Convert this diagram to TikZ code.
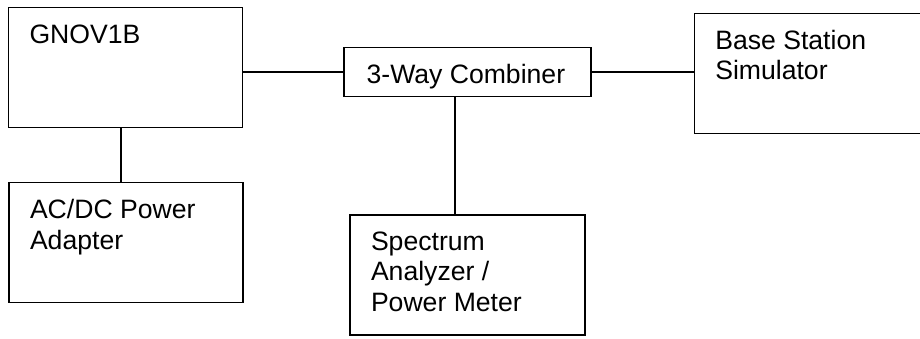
\documentclass[tikz,border=0pt]{standalone}
\usepackage{fontspec}
\setmainfont{Liberation Sans}

\begin{document}
\begin{tikzpicture}[x=0.5pt,y=-0.5pt,line width=0.75pt,
  box/.style={draw,rectangle,inner sep=0pt,minimum width=117pt,minimum height=60pt},
  lbl/.style={anchor=north west,inner sep=0pt,align=left,font=\fontsize{13.3pt}{15.2pt}\selectfont}]
  \path[use as bounding box,clip] (0,0) rectangle (920,338);

  \node[box] (gnov) at (125.5,67.5) {};
  \node[box] (acdc) at (126,242.7) {};
  \node[box,minimum width=123.5pt,minimum height=24.5pt] (comb) at (467.5,72.2) {};
  \node[box,minimum width=117.5pt] (spec) at (467.5,275) {};
  \node[box,minimum width=117.5pt] (base) at (811.8,73.3) {};

  \node[lbl] (gnovtxt) at ([shift={(10.5pt,-8.5pt)}]gnov.north west) {GNOV1B};
  \node[lbl] (acdctxt) at ([shift={(10.5pt,-8.5pt)}]acdc.north west) {AC/DC Power\\Adapter};
  \node[lbl] (combtxt) at ([shift={(11.3pt,-8.5pt)}]comb.north west) {3-Way Combiner};
  \node[lbl] (spectxt) at ([shift={(10.5pt,-8.5pt)}]spec.north west) {Spectrum\\Analyzer /\\Power Meter};
  \node[lbl] (basetxt) at ([shift={(10.5pt,-8.5pt)}]base.north west) {Base Station\\Simulator};

  \draw ([xshift=-2.25pt]gnov.south) -- ([xshift=-2.25pt]gnov.south |- acdc.north);
  \draw (comb.west) -- (comb.west -| gnov.east);
  \draw (comb.east) -- (comb.east -| base.west);
  \draw ([xshift=-6.25pt]comb.south) -- ([xshift=-6.25pt]comb.south |- spec.north);
\end{tikzpicture}
\end{document}
